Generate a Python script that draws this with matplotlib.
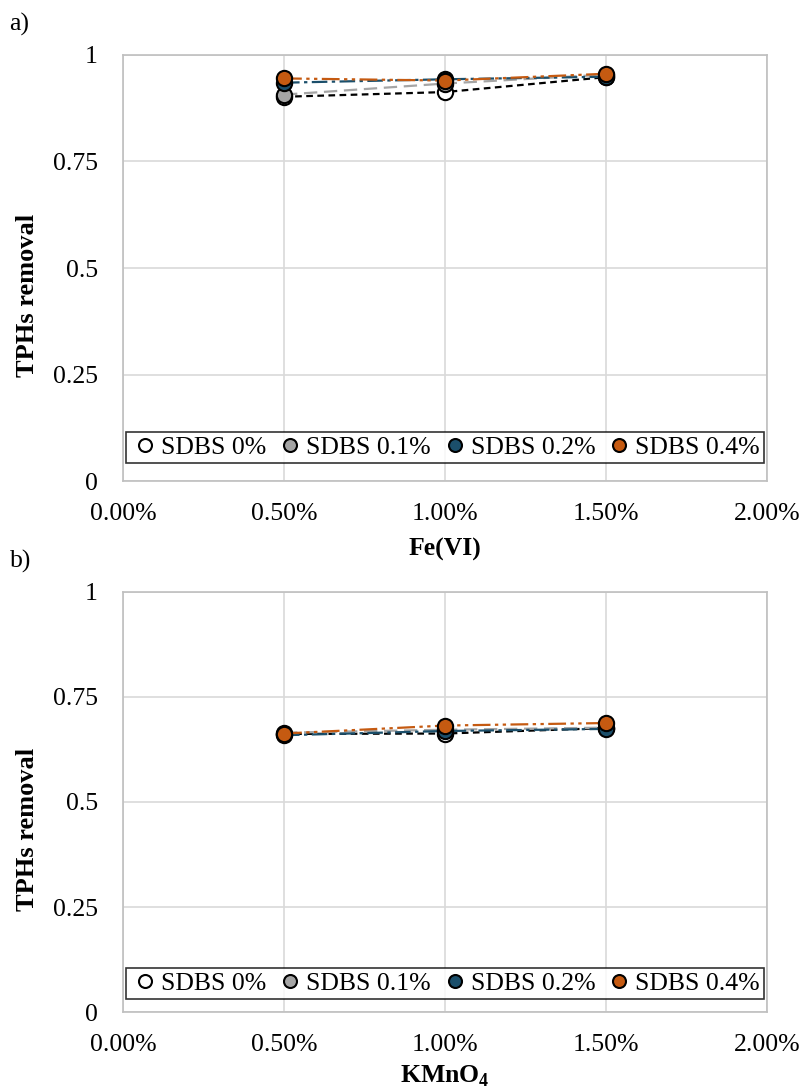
import matplotlib
matplotlib.use("Agg")
import matplotlib.pyplot as plt
from matplotlib.ticker import FuncFormatter


plt.rcParams['font.family'] = ['Liberation Serif', 'DejaVu Serif']
plt.rcParams['mathtext.fontset'] = 'custom'
plt.rcParams['mathtext.rm'] = 'Liberation Serif'
plt.rcParams['mathtext.bf'] = 'Liberation Serif:bold'

# oxidant dose (fraction)
dose = [0.005, 0.010, 0.015]

series_names = ['SDBS 0%', 'SDBS 0.1%', 'SDBS 0.2%', 'SDBS 0.4%']

# a) Fe(VI)
fe_sdbs0 = [0.902, 0.913, 0.948]
fe_sdbs01 = [0.907, 0.933, 0.954]
fe_sdbs02 = [0.935, 0.943, 0.949]
fe_sdbs04 = [0.945, 0.940, 0.956]

# b) KMnO4
mn_sdbs0 = [0.662, 0.663, 0.676]
mn_sdbs01 = [0.665, 0.672, 0.677]
mn_sdbs02 = [0.659, 0.669, 0.674]
mn_sdbs04 = [0.663, 0.682, 0.688]

y_ticks = [0, 0.25, 0.5, 0.75, 1]
x_ticks = [0, 0.005, 0.01, 0.015, 0.02]

colors = ['white', '#A5A5A5', '#1B4F6B', '#C55A11']
line_colors = ['black', '#A5A5A5', '#1B4F6B', '#C55A11']
dashes = [(0, (3, 2)), (0, (6, 3)), (0, (7, 2, 1.5, 2)), (0, (8, 2, 1.5, 2, 1.5, 2))]

FS = 18.5


"""
Draw one panel with the four SDBS series
"""
def draw_panel(ax, data, xlabel, leg_y, xlab_pad):

    for i, vals in enumerate(data):
        ax.plot(dose, vals, linestyle=dashes[i], color=line_colors[i], lw=1.6,
                marker='o', markersize=11, markerfacecolor=colors[i],
                markeredgecolor='black', markeredgewidth=1.5,
                label=series_names[i], zorder=3 + i)

    ax.set_xlim(0, 0.02)
    ax.set_ylim(0, 1)
    ax.set_xticks(x_ticks)
    ax.set_yticks(y_ticks)
    ax.xaxis.set_major_formatter(FuncFormatter(lambda v, p: '{:.2f}%'.format(v * 100)))
    ax.yaxis.set_major_formatter(FuncFormatter(lambda v, p: '{:g}'.format(v)))
    ax.tick_params(length=0, labelsize=FS)
    ax.tick_params(axis='x', pad=16)
    ax.tick_params(axis='y', pad=18)

    ax.grid(True, color='#D9D9D9', lw=1.2)
    ax.set_axisbelow(True)
    for s in ax.spines.values():
        s.set_color('#BFBFBF')
        s.set_linewidth(1.2)

    ax.set_xlabel(xlabel, fontsize=FS, fontweight='bold', labelpad=xlab_pad)
    ax.set_ylabel('TPHs removal', fontsize=FS + 0.5, fontweight='bold')
    ax.yaxis.set_label_coords(-0.13, 0.435)

    leg = ax.legend(loc='lower center', bbox_to_anchor=(0.5, leg_y), ncol=4,
                    fontsize=FS, frameon=True, fancybox=False, edgecolor='black',
                    handlelength=1.15, handletextpad=0.05, columnspacing=0.35,
                    borderpad=0.15, borderaxespad=0, markerscale=0.85)
    leg.get_frame().set_linewidth(1.2)
    for h in leg.get_lines():
        h.set_linestyle('none')


fig = plt.figure(figsize=(8.02, 10.89), dpi=100)

ax1 = fig.add_axes([0.1534, 0.5583, 0.803, 0.3912])
draw_panel(ax1, [fe_sdbs0, fe_sdbs01, fe_sdbs02, fe_sdbs04], 'Fe(VI)', 0.042, 9)

ax2 = fig.add_axes([0.1534, 0.0707, 0.803, 0.3857])
draw_panel(ax2, [mn_sdbs0, mn_sdbs01, mn_sdbs02, mn_sdbs04], r'KMnO$_\mathbf{4}$', 0.031, 5)

fig.text(0.012, 1 - 24 / 1089, 'a)', fontsize=FS, va='center', ha='left')
fig.text(0.012, 1 - 561 / 1089, 'b)', fontsize=FS, va='center', ha='left')

fig.savefig('out.png', dpi=100)
